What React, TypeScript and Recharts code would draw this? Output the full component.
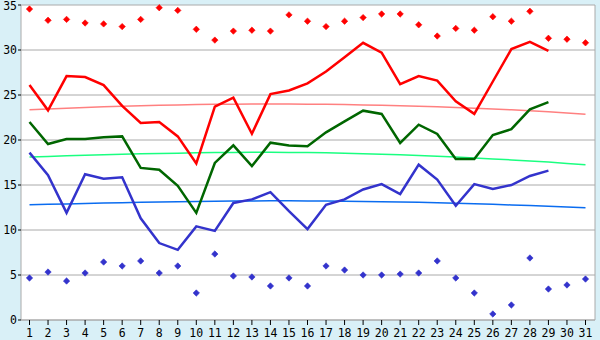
import React from "react";
import { ComposedChart, Line, XAxis, YAxis, CartesianGrid } from "recharts";

const days = [1,2,3,4,5,6,7,8,9,10,11,12,13,14,15,16,17,18,19,20,21,22,23,24,25,26,27,28,29,30,31];
const maxTemp = [26.1,23.3,27.1,27.0,26.1,23.8,21.9,22.0,20.4,17.4,23.7,24.7,20.7,25.1,25.5,26.3,27.6,29.2,30.8,29.7,26.2,27.1,26.6,24.3,22.9,26.5,30.1,30.9,29.9,null,null];
const avgTemp = [22.0,19.55,20.1,20.1,20.3,20.4,16.9,16.7,14.9,11.9,17.45,19.4,17.1,19.7,19.4,19.3,20.85,22.07,23.26,22.9,19.67,21.7,20.67,17.9,17.9,20.55,21.2,23.4,24.2,null,null];
const minTemp = [18.6,16.1,11.9,16.2,15.7,15.85,11.3,8.55,7.8,10.4,9.9,13.0,13.4,14.2,12.1,10.1,12.8,13.4,14.5,15.1,14.0,17.26,15.6,12.7,15.1,14.55,15.0,16.0,16.6,null,null];
const recordHigh = [34.55,33.3,33.4,33.0,32.9,32.6,33.4,34.7,34.4,32.3,31.1,32.1,32.2,32.1,33.9,33.2,32.6,33.2,33.6,34.0,34.0,32.8,31.55,32.4,32.2,33.7,33.2,34.3,31.3,31.2,30.8];
const recordLow = [4.67,5.33,4.33,5.22,6.44,6.0,6.56,5.22,6.0,3.0,7.33,4.89,4.78,3.78,4.67,3.78,6.0,5.55,5.0,5.0,5.1,5.22,6.56,4.67,3.0,0.67,1.67,6.89,3.44,3.89,4.55];
const trendMax = [23.35,23.45,23.53,23.61,23.69,23.75,23.81,23.86,23.9,23.94,23.97,23.98,24.0,24.0,24.0,23.98,23.97,23.94,23.9,23.86,23.81,23.75,23.69,23.61,23.53,23.45,23.35,23.25,23.13,23.0,22.85];
const trendAvg = [18.1,18.17,18.24,18.3,18.36,18.41,18.46,18.5,18.54,18.58,18.6,18.62,18.63,18.63,18.62,18.6,18.57,18.53,18.48,18.42,18.36,18.29,18.2,18.1,18.0,17.9,17.79,17.67,17.55,17.4,17.25];
const trendMin = [12.8,12.85,12.9,12.95,13.0,13.04,13.08,13.12,13.15,13.18,13.2,13.22,13.23,13.24,13.24,13.23,13.22,13.2,13.18,13.15,13.11,13.07,13.02,12.97,12.91,12.85,12.78,12.71,12.63,12.55,12.46];
const yTicks = [0,5,10,15,20,25,30,35];

const data = days.map((d, i) => ({
  day: String(d),
  maxTemp: maxTemp[i],
  avgTemp: avgTemp[i],
  minTemp: minTemp[i],
  recordHigh: recordHigh[i],
  recordLow: recordLow[i],
  trendMax: trendMax[i],
  trendAvg: trendAvg[i],
  trendMin: trendMin[i],
}));

const makeDiamond = (color: string) => (props: any) => {
  const { cx, cy, index } = props;
  if (cx == null || cy == null || isNaN(cy)) return <g key={index} />;
  const r = 3.2;
  return (
    <polygon
      key={index}
      points={`${cx},${cy - r} ${cx + r},${cy} ${cx},${cy + r} ${cx - r},${cy}`}
      fill={color}
      stroke={color}
      strokeWidth={0.6}
    />
  );
};

const FONT = "DejaVu Sans Mono";

const YTick = (props: any) => {
  const { x, y, payload } = props;
  const yy = Math.max(y, 6);
  return (
    <text x={x} y={yy} dy="0.36em" textAnchor="end" fill="#000" fontSize={11.5} fontFamily={FONT}>
      {payload.value}
    </text>
  );
};

const GRID = "#aaaaaa";

export default function App() {
  return (
    <div style={{ position: "absolute", left: 0, top: 0, width: 600, height: 340, background: "#d9f0f7" }}>
      <ComposedChart width={600} height={340} data={data} margin={{ top: 5, right: 0, bottom: 0, left: 0 }}>
        <CartesianGrid yAxisId="l" vertical={false} stroke={GRID} fill="#ffffff" fillOpacity={1} />
        <XAxis
          dataKey="day"
          height={20}
          tickSize={5}
          tickMargin={4}
          interval={0}
          padding={{ left: 8.5, right: 9.5 }}
          stroke={GRID}
          tickLine={{ stroke: "#000" }}
          axisLine={{ stroke: GRID }}
          tick={{ fill: "#000", fontSize: 11.5, fontFamily: FONT }}
        />
        <YAxis
          yAxisId="l"
          width={21}
          domain={[0, 35]}
          ticks={yTicks}
          interval={0}
          tickSize={3}
          tickMargin={1}
          stroke={GRID}
          tickLine={{ stroke: "#000" }}
          tick={<YTick />}
        />
        <YAxis yAxisId="r" orientation="right" width={5} domain={[0, 35]} tick={false} tickLine={false} axisLine={{ stroke: GRID }} />
        <Line yAxisId="l" dataKey="trendMax" stroke="#ff8080" strokeWidth={1.5} dot={false} isAnimationActive={false} />
        <Line yAxisId="l" dataKey="trendAvg" stroke="#1aff80" strokeWidth={1.5} dot={false} isAnimationActive={false} />
        <Line yAxisId="l" dataKey="trendMin" stroke="#0a6cf0" strokeWidth={1.5} dot={false} isAnimationActive={false} />
        <Line yAxisId="l" dataKey="maxTemp" stroke="#ff0000" strokeWidth={2.5} dot={false} isAnimationActive={false} />
        <Line yAxisId="l" dataKey="avgTemp" stroke="#006600" strokeWidth={2.5} dot={false} isAnimationActive={false} />
        <Line yAxisId="l" dataKey="minTemp" stroke="#3333cc" strokeWidth={2.5} dot={false} isAnimationActive={false} />
        <Line yAxisId="l" dataKey="recordHigh" stroke="none" dot={makeDiamond("#ff0000")} activeDot={false} isAnimationActive={false} />
        <Line yAxisId="l" dataKey="recordLow" stroke="none" dot={makeDiamond("#3333cc")} activeDot={false} isAnimationActive={false} />
      </ComposedChart>
    </div>
  );
}
